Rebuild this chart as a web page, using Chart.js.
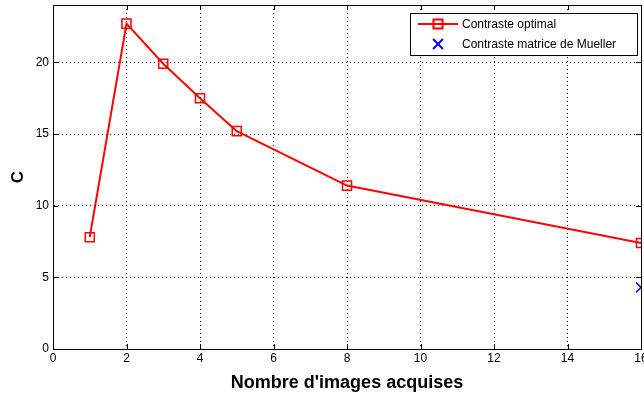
<!DOCTYPE html>
<html>
<head>
<meta charset="utf-8">
<script src="https://cdn.jsdelivr.net/npm/chart.js@4"></script>
<style>
  html, body { margin: 0; padding: 0; background: #fff; }
  #wrap { width: 644px; height: 394px; }
</style>
</head>
<body>
<div id="wrap"><canvas id="chart"></canvas></div>
<script>
// data
const nbImages = [1, 2, 3, 4, 5, 8, 16];
const contrasteOptimal = [7.8, 22.7, 19.9, 17.5, 15.2, 11.4, 7.4];
const muellerX = [16];
const contrasteMueller = [4.3];
const xTicks = [0, 2, 4, 6, 8, 10, 12, 14, 16];
const yTicks = [0, 5, 10, 15, 20];

const font = 'Liberation Sans, Arial, sans-serif';
const noPad = () => ({ left: 0, right: 0, top: 0, bottom: 0 });

// frame around the axes + inward tick marks (matlab look)
const framePlugin = {
    id: 'frame',
    afterDraw(chart) {
        const { ctx, chartArea: a, scales } = chart;
        ctx.save();
        ctx.strokeStyle = '#000';
        ctx.lineWidth = 1;
        ctx.strokeRect(a.left + 0.5, a.top + 0.5, a.right - a.left, a.bottom - a.top);
        ctx.beginPath();
        xTicks.forEach(v => {
            const px = Math.round(scales.x.getPixelForValue(v)) + 0.5;
            ctx.moveTo(px, a.bottom); ctx.lineTo(px, a.bottom - 5);
            ctx.moveTo(px, a.top); ctx.lineTo(px, a.top + 5);
        });
        yTicks.forEach(v => {
            const py = Math.round(scales.y.getPixelForValue(v)) + 0.5;
            ctx.moveTo(a.left, py); ctx.lineTo(a.left + 5, py);
            ctx.moveTo(a.right, py); ctx.lineTo(a.right - 5, py);
        });
        ctx.stroke();
        ctx.restore();
    }
};

// legend box with line + marker samples
const legendBox = {
    id: 'legendBox',
    afterDraw(chart) {
        const { ctx } = chart;
        const x0 = 410, y0 = 13, w = 227, h = 42;
        ctx.save();
        ctx.fillStyle = '#fff';
        ctx.fillRect(x0, y0, w, h);
        ctx.strokeStyle = '#000';
        ctx.lineWidth = 1;
        ctx.strokeRect(x0 + 0.5, y0 + 0.5, w, h);
        ctx.font = '12px ' + font;
        ctx.textBaseline = 'middle';
        chart.data.datasets.forEach((ds, i) => {
            const cy = y0 + 11 + i * 20;
            if (ds.showLine !== false) {
                ctx.strokeStyle = ds.borderColor;
                ctx.lineWidth = 2;
                ctx.beginPath();
                ctx.moveTo(x0 + 8, cy); ctx.lineTo(x0 + 48, cy);
                ctx.stroke();
            }
            ctx.strokeStyle = ds.pointBorderColor;
            ctx.fillStyle = 'rgba(0,0,0,0)';
            Chart.helpers.drawPoint(ctx, {
                pointStyle: ds.pointStyle,
                radius: ds.pointRadius,
                borderWidth: ds.pointBorderWidth
            }, x0 + 28, cy);
            ctx.fillStyle = '#000';
            ctx.fillText(ds.label, x0 + 52, cy + 1);
        });
        ctx.restore();
    }
};

new Chart(document.getElementById('chart'), {
    type: 'line',
    data: {
        datasets: [{
            label: 'Contraste optimal',
            data: nbImages.map((x, i) => ({ x, y: contrasteOptimal[i] })),
            borderColor: '#ff0000',
            borderWidth: 2,
            pointStyle: 'rect',
            pointRadius: 6.4,
            pointBorderWidth: 1.5,
            pointBorderColor: '#ff0000',
            pointBackgroundColor: 'rgba(0,0,0,0)',
            tension: 0,
            fill: false,
            clip: { left: 10, top: 10, right: 0, bottom: 10 }
        }, {
            label: 'Contraste matrice de Mueller',
            data: muellerX.map((x, i) => ({ x, y: contrasteMueller[i] })),
            showLine: false,
            pointStyle: 'crossRot',
            pointRadius: 7,
            pointBorderWidth: 1.5,
            pointBorderColor: '#0000ff',
            borderColor: '#0000ff',
            clip: { left: 10, top: 10, right: 0, bottom: 10 }
        }]
    },
    options: {
        responsive: true,
        maintainAspectRatio: false,
        animation: false,
        layout: { autoPadding: false, padding: { top: 5, right: 3, left: 0, bottom: 0 } },
        plugins: {
            legend: { display: false },
            tooltip: { enabled: false }
        },
        scales: {
            x: {
                type: 'linear',
                min: 0,
                max: 16,
                ticks: {
                    stepSize: 2,
                    color: '#000',
                    padding: 2,
                    font: { family: font, size: 12 }
                },
                afterBuildTicks: s => { s.ticks = xTicks.map(v => ({ value: v })); },
                afterFit: s => { s.height = 45; s.getPadding = noPad; },
                grid: { color: '#000', lineWidth: 1, drawTicks: false },
                border: { display: true, color: '#000', dash: [1, 3] },
                title: {
                    display: true,
                    text: "Nombre d'images acquises",
                    color: '#000',
                    padding: { top: 1, bottom: 0 },
                    font: { family: font, size: 18, weight: 'bold' }
                }
            },
            y: {
                min: 0,
                max: 24,
                ticks: {
                    stepSize: 5,
                    color: '#000',
                    padding: 4,
                    font: { family: font, size: 12 }
                },
                afterBuildTicks: s => { s.ticks = yTicks.map(v => ({ value: v })); },
                afterFit: s => { s.width = 53; s.getPadding = noPad; },
                grid: { color: '#000', lineWidth: 1, drawTicks: false },
                border: { display: true, color: '#000', dash: [1, 3] },
                title: {
                    display: true,
                    text: 'C',
                    color: '#000',
                    padding: { top: 8, bottom: 8 },
                    font: { family: font, size: 17, weight: 'bold' }
                }
            }
        }
    },
    plugins: [framePlugin, legendBox]
});
</script>
</body>
</html>
